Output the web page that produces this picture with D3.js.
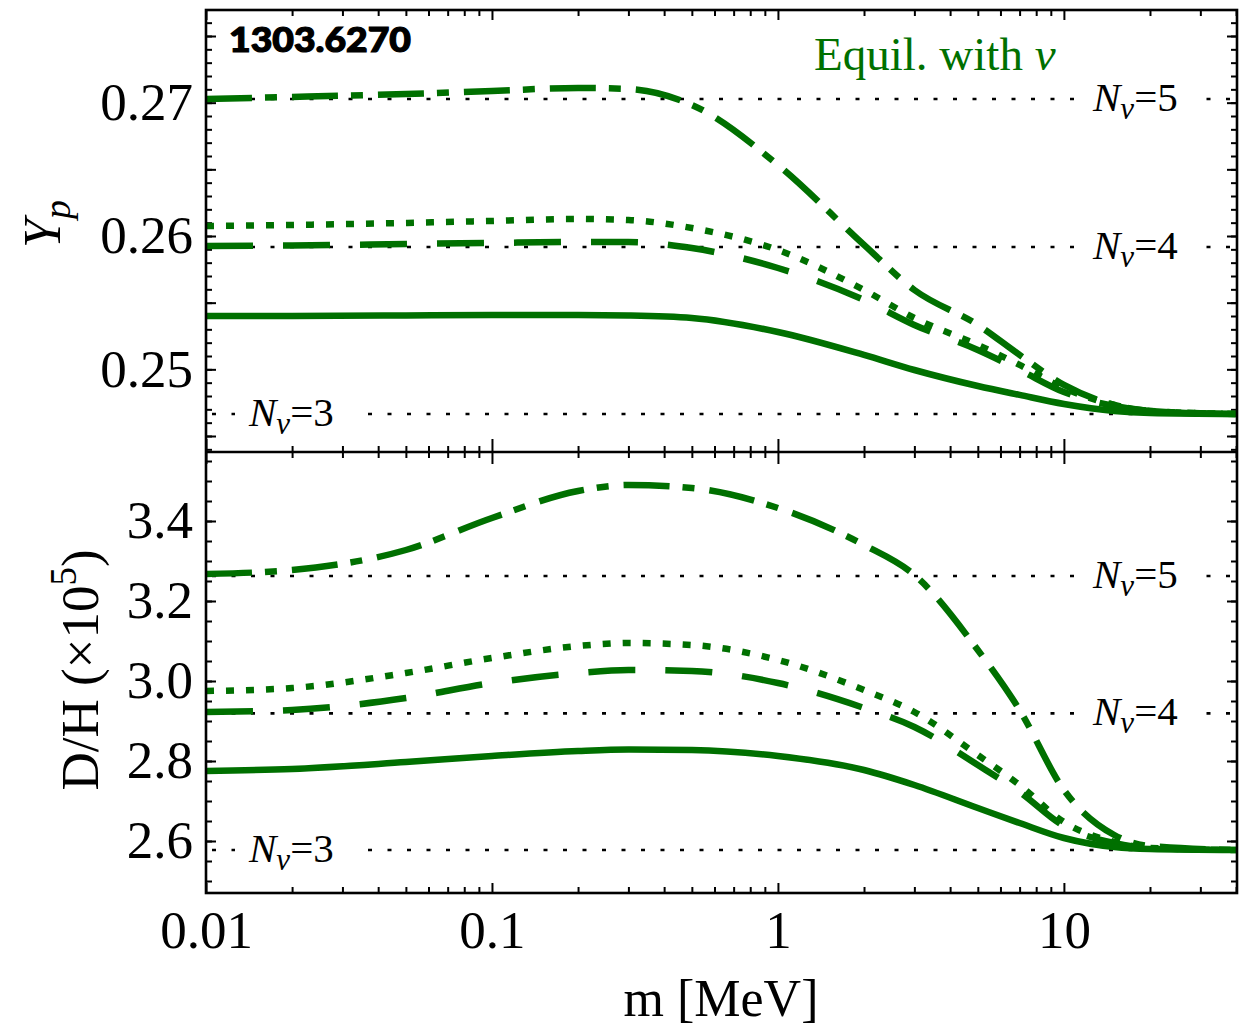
<!DOCTYPE html>
<html>
<head>
<meta charset="utf-8">
<script src="https://cdn.jsdelivr.net/npm/d3@7"></script>
<style>
  body { margin: 0; background: #fff; }
  svg text { font-family: "Liberation Serif", "Times New Roman", serif; fill: #000; }
</style>
</head>
<body>
<svg id="chart" width="1254" height="1028"></svg>
<script>
// Sterile-species mass grid (MeV)
const massGrid = [0.01, 0.02, 0.05, 0.1, 0.2, 0.3, 0.5, 1, 2, 3, 5, 7, 10, 15, 20, 40];

// Helium mass fraction Y_p
const ypDashDot = [0.27028, 0.27043, 0.27065, 0.27088, 0.2711, 0.27103, 0.26983, 0.26533, 0.25933, 0.25595, 0.25333, 0.25108, 0.24883, 0.24733, 0.24688, 0.24665];
const ypDotted  = [0.26075, 0.26083, 0.26098, 0.26113, 0.26128, 0.2612, 0.2606, 0.25895, 0.25595, 0.25385, 0.25183, 0.25033, 0.2486, 0.24733, 0.24688, 0.24665];
const ypDashed  = [0.25925, 0.25929, 0.2594, 0.25948, 0.25955, 0.25955, 0.2591, 0.2576, 0.2552, 0.25333, 0.25145, 0.24995, 0.2483, 0.24725, 0.24688, 0.24665];
const ypSolid   = [0.254, 0.254, 0.25404, 0.25408, 0.25408, 0.25404, 0.25385, 0.2528, 0.25108, 0.24995, 0.24875, 0.24808, 0.2474, 0.24688, 0.24673, 0.24665];

// Deuterium abundance D/H (x 10^5)
const dhDashDot = [3.2675, 3.2775, 3.3275, 3.4075, 3.475, 3.49, 3.4825, 3.4325, 3.34, 3.265, 3.0775, 2.9275, 2.7275, 2.615, 2.5875, 2.5775];
const dhDotted  = [2.975, 2.9825, 3.02, 3.0575, 3.0875, 3.095, 3.09, 3.0525, 2.9775, 2.9225, 2.815, 2.74, 2.6475, 2.5975, 2.5825, 2.5775];
const dhDashed  = [2.9225, 2.9275, 2.9575, 2.995, 3.02, 3.0275, 3.025, 2.995, 2.9325, 2.885, 2.79, 2.7225, 2.6375, 2.595, 2.5825, 2.5775];
const dhSolid   = [2.775, 2.78, 2.7975, 2.8125, 2.825, 2.82875, 2.8275, 2.8125, 2.7775, 2.74, 2.6825, 2.645, 2.6075, 2.585, 2.58, 2.5775];

// Standard-BBN reference levels for N_nu = 3, 4, 5
const nuCounts = ["3", "4", "5"];
const ypReference = [0.24665, 0.25918, 0.27028];
const dhReference = [2.5775, 2.919, 3.2625];

// Tick values and labels
const xMajorTicks = [0.01, 0.1, 1, 10];
const xTickLabels = ["0.01", "0.1", "1", "10"];
const ypLabelTicks = [0.25, 0.26, 0.27];
const dhLabelTicks = [2.6, 2.8, 3.0, 3.2, 3.4];

const svg = d3.select("#chart");
const frameLeft = 206, frameRight = 1237, frameTop = 10, frameMid = 452, frameBottom = 893;
const green = "#007000";

const x = d3.scaleLog().domain([0.01, 40.3]).range([frameLeft, frameRight]);
const yTop = d3.scaleLinear().domain([0.2438, 0.27695]).range([frameMid, frameTop]);
const yBot = d3.scaleLinear().domain([2.47, 3.5725]).range([frameBottom, frameMid]);

// minor x ticks: 2..9 within each decade
const xMinorTicks = [];
[0.01, 0.1, 1, 10].forEach(d => { for (let k = 2; k <= 9; k++) { const v = d * k; if (v <= 40.3) xMinorTicks.push(v); } });

function rangeTicks(a, b, step) {
  const out = [];
  for (let v = a; v <= b + 1e-9; v += step) out.push(+v.toFixed(6));
  return out;
}
const ypMinor = rangeTicks(0.244, 0.276, 0.001);
const ypMajor = rangeTicks(0.245, 0.275, 0.005);
const dhMinor = rangeTicks(2.5, 3.55, 0.05);
const dhMajor = rangeTicks(2.6, 3.4, 0.2);

function stripDomain(g) { g.select(".domain").remove(); g.selectAll("line").attr("stroke", "#000").attr("stroke-width", 2); }

// y axes (inward ticks on both sides)
function drawYAxes(scale, minor, major, labels, fmt) {
  svg.append("g").attr("transform", `translate(${frameLeft},0)`)
    .call(d3.axisLeft(scale).tickValues(minor).tickSize(-6).tickFormat("")).call(stripDomain);
  svg.append("g").attr("transform", `translate(${frameLeft},0)`)
    .call(d3.axisLeft(scale).tickValues(major).tickSize(-10).tickFormat("")).call(stripDomain);
  svg.append("g").attr("transform", `translate(${frameRight},0)`)
    .call(d3.axisRight(scale).tickValues(minor).tickSize(-6).tickFormat("")).call(stripDomain);
  svg.append("g").attr("transform", `translate(${frameRight},0)`)
    .call(d3.axisRight(scale).tickValues(major).tickSize(-10).tickFormat("")).call(stripDomain);
  const lab = svg.append("g").attr("transform", `translate(${frameLeft},0)`)
    .call(d3.axisLeft(scale).tickValues(labels).tickSize(0).tickPadding(13).tickFormat(fmt));
  lab.select(".domain").remove();
  lab.selectAll("text").attr("font-size", 53).attr("font-family", "Liberation Serif, serif").attr("fill", "#000");
}

// x axes along top, middle and bottom
function drawXTicks(yPos, axisFn, size, majorSize) {
  svg.append("g").attr("transform", `translate(0,${yPos})`)
    .call(axisFn(x).tickValues(xMinorTicks).tickSize(size).tickFormat("")).call(stripDomain);
  svg.append("g").attr("transform", `translate(0,${yPos})`)
    .call(axisFn(x).tickValues(xMajorTicks).tickSize(majorSize).tickFormat("")).call(stripDomain);
}
drawXTicks(frameTop, d3.axisTop, -6, -10);
drawXTicks(frameMid, d3.axisTop, 6, 13);
drawXTicks(frameMid, d3.axisBottom, 6, 12);
drawXTicks(frameBottom, d3.axisBottom, -6, -10);

const xLab = svg.append("g").attr("transform", `translate(0,${frameBottom})`)
  .call(d3.axisBottom(x).tickValues(xMajorTicks).tickSize(0).tickPadding(17)
    .tickFormat((d, i) => xTickLabels[i]));
xLab.select(".domain").remove();
xLab.selectAll("text").attr("font-size", 53).attr("font-family", "Liberation Serif, serif").attr("fill", "#000");

drawYAxes(yTop, ypMinor, ypMajor, ypLabelTicks, d3.format(".2f"));
drawYAxes(yBot, dhMinor, dhMajor, dhLabelTicks, d3.format(".1f"));

// clip regions for each panel
const defs = svg.append("defs");
defs.append("clipPath").attr("id", "clipTop").append("rect")
  .attr("x", frameLeft).attr("y", frameTop).attr("width", frameRight - frameLeft).attr("height", frameMid - frameTop);
defs.append("clipPath").attr("id", "clipBot").append("rect")
  .attr("x", frameLeft).attr("y", frameMid).attr("width", frameRight - frameLeft).attr("height", frameBottom - frameMid);

// reference lines with N_nu labels
function drawReference(levels, scale, clipId, labelPos) {
  const g = svg.append("g").attr("clip-path", `url(#${clipId})`);
  levels.forEach((v, i) => {
    const yy = scale(v);
    g.append("line").attr("x1", frameLeft).attr("x2", frameRight).attr("y1", yy).attr("y2", yy)
      .attr("stroke", "#000").attr("stroke-width", 2.6).attr("stroke-dasharray", "4,15.5")
      .attr("stroke-dashoffset", -6);
    const lx = labelPos[i];
    g.append("rect").attr("x", lx - 14).attr("y", yy - 22).attr("width", 118).attr("height", 44).attr("fill", "#fff");
    const t = g.append("text").attr("x", lx).attr("y", yy + 12).attr("font-size", 41);
    t.append("tspan").attr("font-style", "italic").text("N");
    t.append("tspan").attr("font-style", "italic").attr("font-size", 31).attr("dy", 8).text("ν");
    t.append("tspan").attr("dy", -8).text("=" + nuCounts[i]);
  });
}
drawReference(ypReference, yTop, "clipTop", [249, 1093, 1093]);
drawReference(dhReference, yBot, "clipBot", [249, 1093, 1093]);

// curves
const styles = [
  { dash: "46,13,12,15" },
  { dash: "8,12" },
  { dash: "47,30" },
  { dash: null }
];
function drawCurves(seriesList, scale, clipId) {
  const line = d3.line().x((d, i) => x(massGrid[i])).y(d => scale(d)).curve(d3.curveMonotoneX);
  const g = svg.append("g").attr("clip-path", `url(#${clipId})`);
  seriesList.forEach((s, i) => {
    g.append("path").attr("d", line(s)).attr("fill", "none").attr("stroke", green)
      .attr("stroke-width", 6.5).attr("stroke-linecap", "butt")
      .attr("stroke-dasharray", styles[i].dash);
  });
}
drawCurves([ypDashDot, ypDotted, ypDashed, ypSolid], yTop, "clipTop");
drawCurves([dhDashDot, dhDotted, dhDashed, dhSolid], yBot, "clipBot");

// frame
svg.append("rect").attr("x", frameLeft).attr("y", frameTop).attr("width", frameRight - frameLeft).attr("height", frameBottom - frameTop)
  .attr("fill", "none").attr("stroke", "#000").attr("stroke-width", 2.6);
svg.append("line").attr("x1", frameLeft).attr("x2", frameRight).attr("y1", frameMid).attr("y2", frameMid)
  .attr("stroke", "#000").attr("stroke-width", 2.4);

// annotations
svg.append("text").attr("x", 229).attr("y", 52).attr("font-size", 35)
  .style("font-family", "Lato, 'DejaVu Sans', sans-serif").attr("font-weight", 900)
  .style("stroke", "#000").style("stroke-width", 1.2)
  .attr("textLength", 182).attr("lengthAdjust", "spacingAndGlyphs")
  .text("1303.6270");

const eq = svg.append("text").attr("x", 814).attr("y", 70).attr("font-size", 47).style("fill", green);
eq.append("tspan").text("Equil. with ");
eq.append("tspan").attr("font-style", "italic").text("ν");

// axis titles
const yp = svg.append("text").attr("transform", "translate(60,224) rotate(-90)")
  .attr("text-anchor", "middle").attr("font-size", 52);
yp.append("tspan").attr("font-style", "italic").text("Y");
yp.append("tspan").attr("font-style", "italic").attr("font-size", 38).attr("dy", 10).text("p");

const dh = svg.append("text").attr("transform", "translate(98,670) rotate(-90)")
  .attr("text-anchor", "middle").attr("font-size", 53);
dh.append("tspan").text("D/H (×10");
dh.append("tspan").attr("font-size", 37).attr("dy", -22).text("5");
dh.append("tspan").attr("dy", 22).text(")");

svg.append("text").attr("x", 721).attr("y", 1016).attr("text-anchor", "middle").attr("font-size", 52)
  .text("m [MeV]");
</script>
</body>
</html>
